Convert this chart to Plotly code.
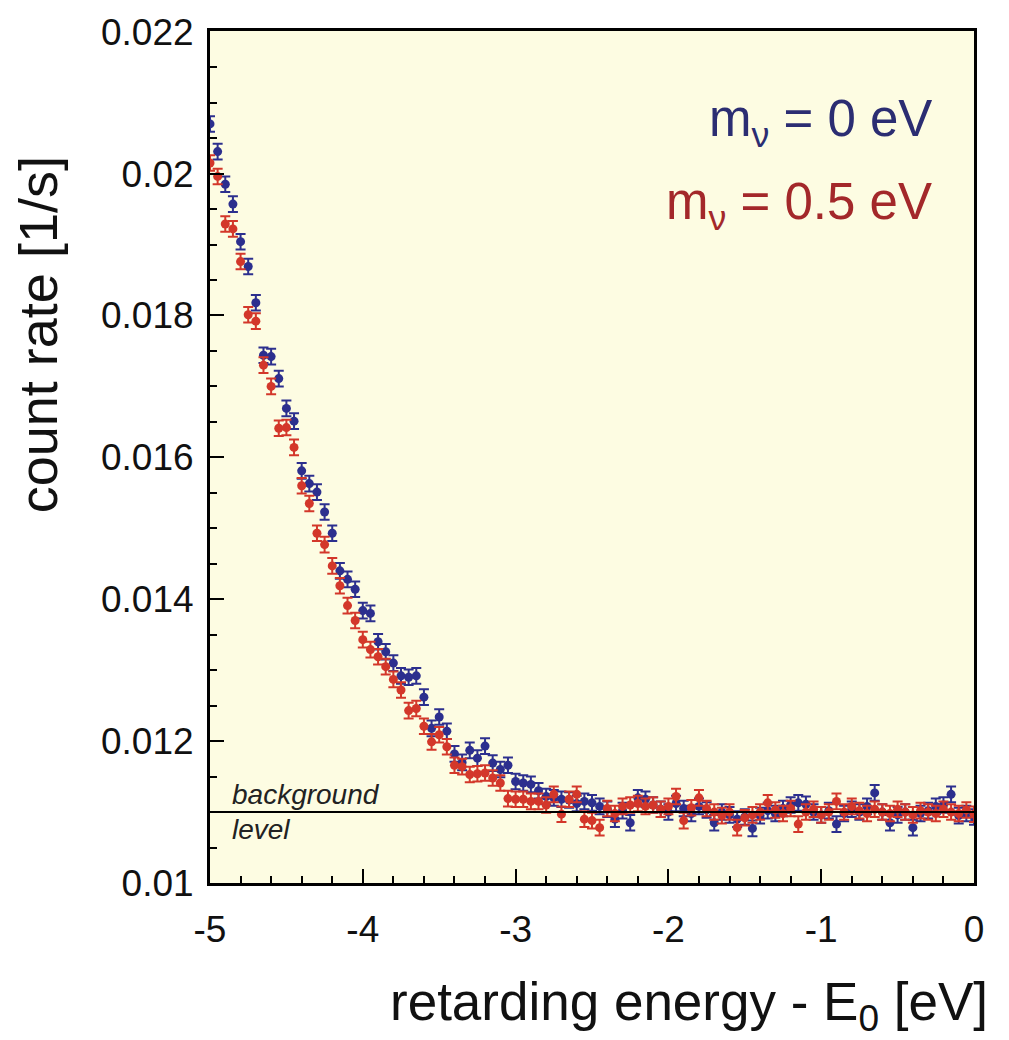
import plotly.graph_objects as go

# ---------------- data ----------------
energy = [round(-5.0 + 0.05 * i, 2) for i in range(101)]

rate_m0 = [
    0.02070, 0.02031, 0.01985, 0.01957, 0.01904, 0.01869, 0.01818, 0.01744, 0.01742, 0.01711,
    0.01669, 0.01651, 0.01581, 0.01563, 0.01551, 0.01523, 0.01493, 0.01440, 0.01428, 0.01414,
    0.01384, 0.01380, 0.01340, 0.01326, 0.01310, 0.01292, 0.01290, 0.01292, 0.01262, 0.01218,
    0.01234, 0.01214, 0.01182, 0.01170, 0.01187, 0.01176, 0.01193, 0.01169, 0.01160, 0.01166,
    0.01143,
    0.01141, 0.01139, 0.01130, 0.01122, 0.01120, 0.01118, 0.01117, 0.01112, 0.01115, 0.01113,
    0.01108, 0.01104, 0.01090, 0.01102, 0.01085, 0.01120, 0.01118, 0.01110, 0.01104, 0.01100,
    0.01112, 0.01105, 0.01098, 0.01108, 0.01103, 0.01085, 0.01100, 0.01096, 0.01090, 0.01093,
    0.01077, 0.01095, 0.01102, 0.01098, 0.01105, 0.01110, 0.01113, 0.01111, 0.01100, 0.01096,
    0.01102, 0.01083, 0.01098, 0.01104, 0.01100, 0.01108, 0.01127, 0.01100, 0.01085, 0.01096,
    0.01100, 0.01078, 0.01098, 0.01102, 0.01108, 0.01110, 0.01125, 0.01095, 0.01098, 0.01093,
]

rate_m05 = [
    0.02015, 0.01996, 0.01929, 0.01922, 0.01876, 0.01801, 0.01792, 0.01730, 0.01700, 0.01641,
    0.01642, 0.01614, 0.01560, 0.01535, 0.01493, 0.01477, 0.01447, 0.01419, 0.01391, 0.01370,
    0.01343, 0.01329, 0.01319, 0.01305, 0.01287, 0.01272, 0.01243, 0.01246, 0.01221, 0.01199,
    0.01209, 0.01192, 0.01166, 0.01164, 0.01153, 0.01154, 0.01155, 0.01148, 0.01141, 0.01119,
    0.01118,
    0.01118, 0.01115, 0.01115, 0.01110, 0.01125, 0.01097, 0.01118, 0.01125, 0.01090, 0.01088,
    0.01078, 0.01105, 0.01098, 0.01108, 0.01110, 0.01112, 0.01108, 0.01110, 0.01104, 0.01108,
    0.01122, 0.01088, 0.01106, 0.01120, 0.01105, 0.01100, 0.01095, 0.01100, 0.01078, 0.01092,
    0.01096, 0.01100, 0.01113, 0.01103, 0.01098, 0.01105, 0.01083, 0.01100, 0.01104, 0.01096,
    0.01100, 0.01115, 0.01100, 0.01108, 0.01102, 0.01098, 0.01104, 0.01100, 0.01098, 0.01104,
    0.01100, 0.01096, 0.01102, 0.01100, 0.01098, 0.01104, 0.01100, 0.01098, 0.01103, 0.01097,
]

rate_error = 0.00011
background_level = 0.011

y_tick_vals = [0.010, 0.012, 0.014, 0.016, 0.018, 0.020, 0.022]
y_tick_text = ["0.01", "0.012", "0.014", "0.016", "0.018", "0.02", "0.022"]
x_tick_vals = [-5, -4, -3, -2, -1, 0]
x_tick_text = ["-5", "-4", "-3", "-2", "-1", "0"]

series_names = ["m<sub>ν</sub> = 0 eV", "m<sub>ν</sub> = 0.5 eV"]

# ---------------- style ----------------
FONT = "Liberation Sans, Arial, sans-serif"
BLUE = "#2c2f8e"
RED = "#d3372a"
BLUE_TXT = "#2b2d72"
RED_TXT = "#a3282a"

fig = go.Figure()

for rates, color, name in [(rate_m0, BLUE, series_names[0]), (rate_m05, RED, series_names[1])]:
    fig.add_trace(go.Scatter(
        x=energy, y=rates, mode="markers", name=name,
        marker=dict(color=color, size=9),
        error_y=dict(type="constant", value=rate_error, color=color, thickness=2, width=5),
        showlegend=False,
    ))

fig.add_shape(type="line", xref="x", yref="y",
              x0=energy[0], x1=energy[-1], y0=background_level, y1=background_level,
              line=dict(color="black", width=2))

fig.add_annotation(x=-4.87, y=background_level, xref="x", yref="y",
                   text="<i>background</i>", showarrow=False,
                   xanchor="left", yanchor="bottom", yshift=0,
                   font=dict(family=FONT, size=28, color="#222222"))
fig.add_annotation(x=-4.87, y=background_level, xref="x", yref="y",
                   text="<i>level</i>", showarrow=False,
                   xanchor="left", yanchor="top", yshift=0,
                   font=dict(family=FONT, size=28, color="#222222"))

fig.add_annotation(x=0.947, y=0.893, xref="paper", yref="paper",
                   text=series_names[0], showarrow=False,
                   xanchor="right", yanchor="middle",
                   font=dict(family=FONT, size=51, color=BLUE_TXT))
fig.add_annotation(x=0.947, y=0.795, xref="paper", yref="paper",
                   text=series_names[1], showarrow=False,
                   xanchor="right", yanchor="middle",
                   font=dict(family=FONT, size=51, color=RED_TXT))

# axis titles as annotations for precise placement
fig.add_annotation(x=1.021, y=-0.144, xref="paper", yref="paper",
                   text="retarding energy - E<sub>0</sub> [eV]", showarrow=False,
                   xanchor="right", yanchor="middle",
                   font=dict(family=FONT, size=53, color="#111111"))
fig.add_annotation(x=-0.225, y=0.643, xref="paper", yref="paper",
                   text="count rate [1/s]", showarrow=False, textangle=-90,
                   xanchor="center", yanchor="middle",
                   font=dict(family=FONT, size=54, color="#111111"))

fig.update_layout(
    width=1009, height=1040,
    margin=dict(l=210, r=35, t=20, b=157),
    paper_bgcolor="white",
    plot_bgcolor="#fdfce2",
    font=dict(family=FONT, color="#111111"),
    xaxis=dict(
        range=[-5, 0], tickvals=x_tick_vals, ticktext=x_tick_text,
        ticks="inside", ticklen=14, tickwidth=2, tickcolor="black",
        minor=dict(dtick=0.2, tick0=-5, ticks="inside", ticklen=7, tickwidth=2, tickcolor="black"),
        showline=True, linecolor="black", linewidth=3, mirror=True,
        showgrid=False, zeroline=False,
        tickfont=dict(family=FONT, size=37, color="#111111"),
        ticklabelstandoff=12, ticklabeloverflow="allow",
    ),
    yaxis=dict(
        range=[0.010, 0.02201], tickvals=y_tick_vals, ticktext=y_tick_text,
        ticks="inside", ticklen=14, tickwidth=2, tickcolor="black",
        minor=dict(dtick=0.0005, tick0=0.010, ticks="inside", ticklen=7, tickwidth=2, tickcolor="black"),
        showline=True, linecolor="black", linewidth=3, mirror=True,
        showgrid=False, zeroline=False,
        tickfont=dict(family=FONT, size=37, color="#111111"),
        ticklabelstandoff=6, ticklabeloverflow="allow",
    ),
)

fig.write_html("out.html", config={"displayModeBar": False},
               post_script="document.body.style.margin='0';")
